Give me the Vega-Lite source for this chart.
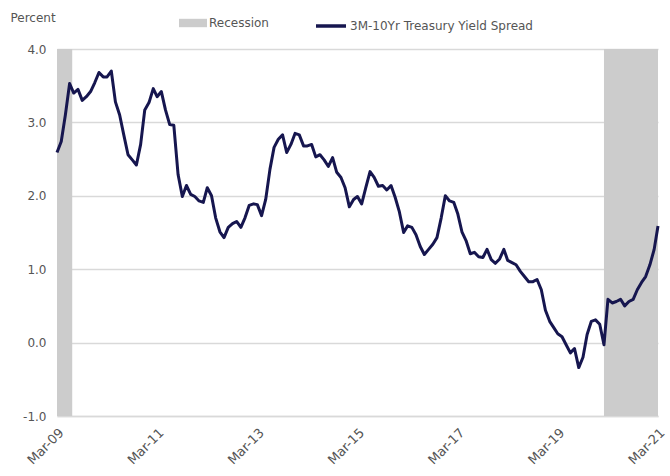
{
  "$schema": "https://vega.github.io/schema/vega-lite/v6.json",
  "width": 601,
  "height": 367,
  "autosize": {"type": "none"},
  "padding": {"left": 57, "top": 49, "right": 12, "bottom": 60},
  "background": "white",
  "config": {
    "view": {"stroke": null},
    "font": "DejaVu Sans",
    "axis": {"labelFont": "DejaVu Sans", "titleFont": "DejaVu Sans"},
    "legend": {"labelFont": "DejaVu Sans"}
  },
  "datasets": {
    "rec": [
      {"start": "2009-03-01", "end": "2009-06-20", "series": "Recession"},
      {"start": "2020-02-01", "end": "2021-03-01", "series": "Recession"}
    ],
    "spread": [
      {"date": "2009-03-01", "value": 2.59},
      {"date": "2009-04-01", "value": 2.74},
      {"date": "2009-05-01", "value": 3.10},
      {"date": "2009-06-01", "value": 3.53},
      {"date": "2009-07-01", "value": 3.40},
      {"date": "2009-08-01", "value": 3.45},
      {"date": "2009-09-01", "value": 3.30},
      {"date": "2009-10-01", "value": 3.35},
      {"date": "2009-11-01", "value": 3.42},
      {"date": "2009-12-01", "value": 3.54},
      {"date": "2010-01-01", "value": 3.68},
      {"date": "2010-02-01", "value": 3.62},
      {"date": "2010-03-01", "value": 3.62},
      {"date": "2010-04-01", "value": 3.70},
      {"date": "2010-05-01", "value": 3.28},
      {"date": "2010-06-01", "value": 3.10},
      {"date": "2010-07-01", "value": 2.83},
      {"date": "2010-08-01", "value": 2.56},
      {"date": "2010-09-01", "value": 2.49},
      {"date": "2010-10-01", "value": 2.42},
      {"date": "2010-11-01", "value": 2.70},
      {"date": "2010-12-01", "value": 3.17},
      {"date": "2011-01-01", "value": 3.27},
      {"date": "2011-02-01", "value": 3.46},
      {"date": "2011-03-01", "value": 3.35},
      {"date": "2011-04-01", "value": 3.42},
      {"date": "2011-05-01", "value": 3.17},
      {"date": "2011-06-01", "value": 2.97},
      {"date": "2011-07-01", "value": 2.96},
      {"date": "2011-08-01", "value": 2.29},
      {"date": "2011-09-01", "value": 1.99},
      {"date": "2011-10-01", "value": 2.14},
      {"date": "2011-11-01", "value": 2.02},
      {"date": "2011-12-01", "value": 1.99},
      {"date": "2012-01-01", "value": 1.93},
      {"date": "2012-02-01", "value": 1.91},
      {"date": "2012-03-01", "value": 2.11},
      {"date": "2012-04-01", "value": 2.00},
      {"date": "2012-05-01", "value": 1.70},
      {"date": "2012-06-01", "value": 1.51},
      {"date": "2012-07-01", "value": 1.43},
      {"date": "2012-08-01", "value": 1.57},
      {"date": "2012-09-01", "value": 1.62},
      {"date": "2012-10-01", "value": 1.65},
      {"date": "2012-11-01", "value": 1.57},
      {"date": "2012-12-01", "value": 1.70},
      {"date": "2013-01-01", "value": 1.87},
      {"date": "2013-02-01", "value": 1.89},
      {"date": "2013-03-01", "value": 1.88},
      {"date": "2013-04-01", "value": 1.73},
      {"date": "2013-05-01", "value": 1.95},
      {"date": "2013-06-01", "value": 2.36},
      {"date": "2013-07-01", "value": 2.66},
      {"date": "2013-08-01", "value": 2.77},
      {"date": "2013-09-01", "value": 2.83},
      {"date": "2013-10-01", "value": 2.59},
      {"date": "2013-11-01", "value": 2.70},
      {"date": "2013-12-01", "value": 2.85},
      {"date": "2014-01-01", "value": 2.83},
      {"date": "2014-02-01", "value": 2.68},
      {"date": "2014-03-01", "value": 2.68},
      {"date": "2014-04-01", "value": 2.70},
      {"date": "2014-05-01", "value": 2.53},
      {"date": "2014-06-01", "value": 2.56},
      {"date": "2014-07-01", "value": 2.49},
      {"date": "2014-08-01", "value": 2.40},
      {"date": "2014-09-01", "value": 2.52},
      {"date": "2014-10-01", "value": 2.32},
      {"date": "2014-11-01", "value": 2.25},
      {"date": "2014-12-01", "value": 2.11},
      {"date": "2015-01-01", "value": 1.85},
      {"date": "2015-02-01", "value": 1.95},
      {"date": "2015-03-01", "value": 1.99},
      {"date": "2015-04-01", "value": 1.89},
      {"date": "2015-05-01", "value": 2.11},
      {"date": "2015-06-01", "value": 2.33},
      {"date": "2015-07-01", "value": 2.25},
      {"date": "2015-08-01", "value": 2.13},
      {"date": "2015-09-01", "value": 2.14},
      {"date": "2015-10-01", "value": 2.08},
      {"date": "2015-11-01", "value": 2.14},
      {"date": "2015-12-01", "value": 1.98},
      {"date": "2016-01-01", "value": 1.78},
      {"date": "2016-02-01", "value": 1.50},
      {"date": "2016-03-01", "value": 1.59},
      {"date": "2016-04-01", "value": 1.57},
      {"date": "2016-05-01", "value": 1.47},
      {"date": "2016-06-01", "value": 1.31},
      {"date": "2016-07-01", "value": 1.20},
      {"date": "2016-08-01", "value": 1.27},
      {"date": "2016-09-01", "value": 1.34},
      {"date": "2016-10-01", "value": 1.43},
      {"date": "2016-11-01", "value": 1.70},
      {"date": "2016-12-01", "value": 2.00},
      {"date": "2017-01-01", "value": 1.93},
      {"date": "2017-02-01", "value": 1.91},
      {"date": "2017-03-01", "value": 1.76},
      {"date": "2017-04-01", "value": 1.51},
      {"date": "2017-05-01", "value": 1.39},
      {"date": "2017-06-01", "value": 1.21},
      {"date": "2017-07-01", "value": 1.23},
      {"date": "2017-08-01", "value": 1.17},
      {"date": "2017-09-01", "value": 1.16},
      {"date": "2017-10-01", "value": 1.27},
      {"date": "2017-11-01", "value": 1.13},
      {"date": "2017-12-01", "value": 1.08},
      {"date": "2018-01-01", "value": 1.14},
      {"date": "2018-02-01", "value": 1.27},
      {"date": "2018-03-01", "value": 1.12},
      {"date": "2018-04-01", "value": 1.09},
      {"date": "2018-05-01", "value": 1.06},
      {"date": "2018-06-01", "value": 0.97},
      {"date": "2018-07-01", "value": 0.90},
      {"date": "2018-08-01", "value": 0.83},
      {"date": "2018-09-01", "value": 0.83},
      {"date": "2018-10-01", "value": 0.86},
      {"date": "2018-11-01", "value": 0.72},
      {"date": "2018-12-01", "value": 0.44},
      {"date": "2019-01-01", "value": 0.29},
      {"date": "2019-02-01", "value": 0.20},
      {"date": "2019-03-01", "value": 0.12},
      {"date": "2019-04-01", "value": 0.08},
      {"date": "2019-05-01", "value": -0.03},
      {"date": "2019-06-01", "value": -0.14},
      {"date": "2019-07-01", "value": -0.08},
      {"date": "2019-08-01", "value": -0.34},
      {"date": "2019-09-01", "value": -0.20},
      {"date": "2019-10-01", "value": 0.11},
      {"date": "2019-11-01", "value": 0.29},
      {"date": "2019-12-01", "value": 0.31},
      {"date": "2020-01-01", "value": 0.25},
      {"date": "2020-02-01", "value": -0.03},
      {"date": "2020-03-01", "value": 0.59},
      {"date": "2020-04-01", "value": 0.54},
      {"date": "2020-05-01", "value": 0.56},
      {"date": "2020-06-01", "value": 0.59},
      {"date": "2020-07-01", "value": 0.50},
      {"date": "2020-08-01", "value": 0.56},
      {"date": "2020-09-01", "value": 0.59},
      {"date": "2020-10-01", "value": 0.72},
      {"date": "2020-11-01", "value": 0.82},
      {"date": "2020-12-01", "value": 0.90},
      {"date": "2021-01-01", "value": 1.06},
      {"date": "2021-02-01", "value": 1.27},
      {"date": "2021-03-01", "value": 1.59}
    ]
  },
  "layer": [
    {
      "data": {"name": "rec"},
      "mark": {"type": "rect"},
      "encoding": {
        "x": {
          "field": "start",
          "type": "temporal",
          "scale": {"type": "utc", "domain": ["2009-03-01", "2021-03-01"], "nice": false},
          "axis": {
            "values": ["2009-03-01", "2011-03-01", "2013-03-01", "2015-03-01", "2017-03-01", "2019-03-01", "2021-03-01"],
            "labelExpr": "utcFormat(datum.value, '%b-%y')",
            "labelAngle": -45,
            "labelAlign": "right",
            "labelBaseline": "top",
            "labelPadding": 10,
            "labelFontSize": 13,
            "labelColor": "#555555",
            "labelFlush": false,
            "labelOverlap": false,
            "labelLimit": 200,
            "domain": true,
            "domainColor": "#d9d9d9",
            "domainWidth": 1.5,
            "ticks": false,
            "grid": false,
            "title": null
          }
        },
        "x2": {"field": "end"},
        "y": {"datum": 4},
        "y2": {"datum": -1},
        "color": {
          "field": "series",
          "type": "nominal",
          "scale": {"domain": ["Recession"], "range": ["#cccccc"]},
          "legend": {
            "orient": "none",
            "legendX": 122,
            "legendY": -40,
            "title": null,
            "symbolType": "M-1,-0.3H1V0.3H-1Z",
            "symbolSize": 784,
            "symbolStrokeWidth": 0,
            "labelFontSize": 12,
            "labelColor": "#555555",
            "labelOffset": 2,
            "labelLimit": 300
          }
        }
      }
    },
    {
      "data": {"name": "spread"},
      "mark": {"type": "line", "strokeWidth": 3, "strokeJoin": "round"},
      "encoding": {
        "x": {"field": "date", "type": "temporal"},
        "y": {
          "field": "value",
          "type": "quantitative",
          "scale": {"domain": [-1, 4], "nice": false, "zero": false},
          "axis": {
            "values": [-1, 0, 1, 2, 3, 4],
            "labelExpr": "replace(format(datum.value, '.1f'), '−', '-')",
            "grid": true,
            "gridColor": "#d9d9d9",
            "gridWidth": 1.5,
            "domain": false,
            "ticks": false,
            "labelPadding": 11,
            "labelFontSize": 12,
            "labelColor": "#555555",
            "title": "Percent",
            "titleAngle": 0,
            "titleAlign": "left",
            "titleBaseline": "middle",
            "titleX": -47,
            "titleY": -32,
            "titleFontSize": 12,
            "titleFontWeight": "normal",
            "titleColor": "#555555"
          }
        },
        "stroke": {
          "datum": "3M-10Yr Treasury Yield Spread",
          "type": "nominal",
          "scale": {"range": ["#16164f"]},
          "legend": {
            "orient": "none",
            "legendX": 257,
            "legendY": -40,
            "title": null,
            "symbolType": "stroke",
            "symbolSize": 900,
            "symbolStrokeWidth": 3.5,
            "labelFontSize": 12,
            "labelColor": "#555555",
            "labelOffset": 2,
            "labelLimit": 300
          }
        }
      }
    }
  ]
}
